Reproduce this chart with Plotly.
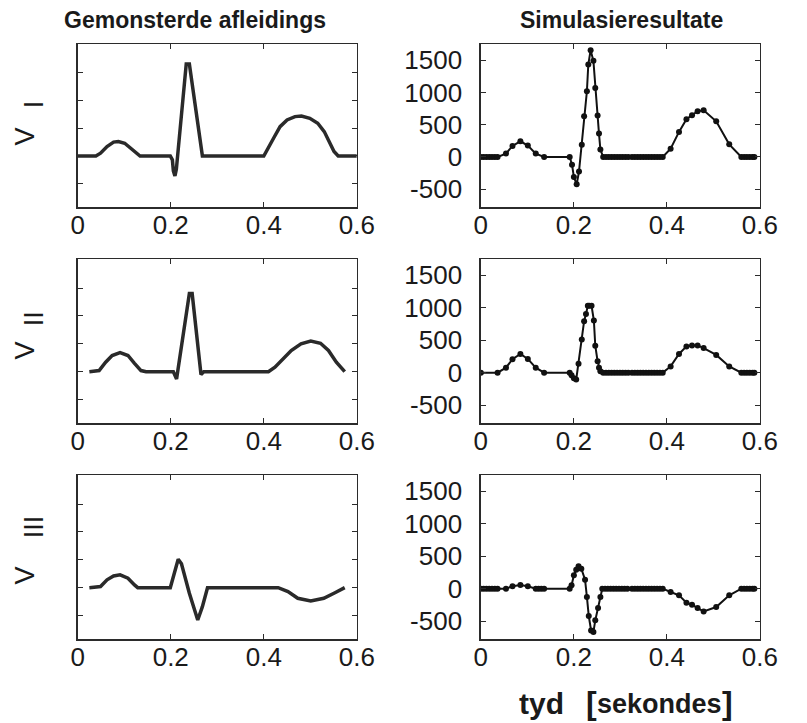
import plotly.graph_objects as go

# ---------------- data ----------------
tL1 = [0.0, 0.039, 0.049, 0.063, 0.077, 0.0875, 0.101, 0.115, 0.126, 0.134, 0.199, 0.2035, 0.2056, 0.209, 0.212, 0.2333, 0.240, 0.268, 0.400, 0.410, 0.421, 0.435, 0.450, 0.467, 0.481, 0.499, 0.516, 0.530, 0.540, 0.551, 0.560, 0.600]
vL1 = [0.0, 0.0, 0.05, 0.17, 0.25, 0.26, 0.23, 0.14, 0.05, 0.0, 0.0, -0.07, -0.27, -0.36, -0.24, 1.66, 1.66, 0.0, 0.0, 0.14, 0.32, 0.53, 0.65, 0.71, 0.72, 0.68, 0.59, 0.44, 0.26, 0.08, 0.0, 0.0]

tL2 = [0.025, 0.046, 0.060, 0.074, 0.091, 0.108, 0.122, 0.136, 0.147, 0.2056, 0.2125, 0.240, 0.246, 0.265, 0.271, 0.410, 0.424, 0.442, 0.459, 0.480, 0.501, 0.522, 0.539, 0.556, 0.574]
vL2 = [0.0, 0.02, 0.17, 0.29, 0.34, 0.29, 0.15, 0.02, 0.0, 0.0, -0.13, 1.40, 1.40, -0.05, 0.0, 0.0, 0.08, 0.23, 0.38, 0.50, 0.55, 0.51, 0.38, 0.17, 0.0]

tL3 = [0.025, 0.049, 0.063, 0.077, 0.091, 0.108, 0.122, 0.129, 0.199, 0.206, 0.216, 0.223, 0.240, 0.258, 0.268, 0.279, 0.431, 0.452, 0.473, 0.501, 0.529, 0.553, 0.574]
vL3 = [0.0, 0.02, 0.14, 0.21, 0.23, 0.17, 0.05, 0.0, 0.0, 0.20, 0.51, 0.43, -0.10, -0.58, -0.34, 0.0, 0.0, -0.07, -0.19, -0.24, -0.19, -0.09, 0.0]

# Right column: simulation results
tR1 = [0.0, 0.006, 0.012, 0.018, 0.024, 0.030, 0.036, 0.054, 0.068, 0.085, 0.101, 0.118, 0.136, 0.191, 0.196, 0.200, 0.206, 0.211, 0.217, 0.222, 0.228, 0.231, 0.236, 0.242, 0.246, 0.251, 0.254, 0.257, 0.263,
       0.269, 0.275, 0.281, 0.287, 0.293, 0.299, 0.305, 0.311, 0.317, 0.325, 0.331, 0.337, 0.343, 0.349, 0.355, 0.361, 0.367, 0.373, 0.379, 0.385, 0.391,
       0.408, 0.426, 0.442, 0.454, 0.466, 0.479, 0.506, 0.534, 0.560, 0.566, 0.572, 0.578, 0.584, 0.588]
vR1 = [0, 0, 0, 0, 0, 0, 0, 52, 171, 243, 176, 52, 0, 0, -119, -310, -424, -227, 191, 631, 1018, 1432, 1654, 1489, 1070, 641, 362, 114, 0,
       0, 0, 0, 0, 0, 0, 0, 0, 0, 0, 0, 0, 0, 0, 0, 0, 0, 0, 0, 0, 0,
       129, 388, 584, 646, 708, 724, 553, 196, 0, 0, 0, 0, 0, 0]

tR2 = [0.0, 0.036, 0.054, 0.068, 0.085, 0.101, 0.118, 0.136, 0.191, 0.195, 0.200, 0.205, 0.210, 0.217, 0.222, 0.226, 0.230, 0.233, 0.238, 0.243, 0.246, 0.251, 0.254, 0.257, 0.263,
       0.269, 0.275, 0.281, 0.287, 0.293, 0.299, 0.305, 0.311, 0.317, 0.325, 0.331, 0.337, 0.343, 0.349, 0.355, 0.361, 0.367, 0.373, 0.379, 0.385, 0.391,
       0.408, 0.426, 0.442, 0.454, 0.466, 0.479, 0.506, 0.534, 0.560, 0.566, 0.572, 0.578, 0.584, 0.588]
vR2 = [0, 0, 76, 207, 288, 212, 76, 0, 0, -40, -86, -106, 136, 510, 793, 904, 1030, 1030, 1030, 803, 414, 177, 76, 20, 0,
       0, 0, 0, 0, 0, 0, 0, 0, 0, 0, 0, 0, 0, 0, 0, 0, 0, 0, 0, 0, 0,
       96, 288, 404, 419, 419, 379, 273, 96, 0, 0, 0, 0, 0, 0]

tR3 = [0.0, 0.006, 0.012, 0.018, 0.024, 0.030, 0.036, 0.054, 0.068, 0.085, 0.101, 0.118, 0.124, 0.130, 0.136, 0.191, 0.195, 0.200, 0.205, 0.210, 0.216, 0.224, 0.228, 0.232, 0.237, 0.242, 0.246, 0.252, 0.257, 0.261,
       0.267, 0.273, 0.279, 0.285, 0.291, 0.297, 0.303, 0.309, 0.315, 0.325, 0.331, 0.337, 0.343, 0.349, 0.355, 0.361, 0.367, 0.373, 0.379, 0.385, 0.391,
       0.408, 0.426, 0.442, 0.454, 0.466, 0.479, 0.506, 0.534, 0.560, 0.566, 0.572, 0.578, 0.584, 0.588]
vR3 = [0, 0, 0, 0, 0, 0, 0, 0, 36, 57, 36, 0, 0, 0, 0, 0, 51, 206, 293, 344, 308, 139, -128, -421, -643, -668, -488, -298, -128, 0,
       0, 0, 0, 0, 0, 0, 0, 0, 0, 0, 0, 0, 0, 0, 0, 0, 0, 0, 0, 0, 0,
       -51, -103, -216, -247, -298, -350, -283, -103, 0, 0, 0, 0, 0, 0]

x_ticks = [0, 0.2, 0.4, 0.6]
x_tick_text = ["0", "0.2", "0.4", "0.6"]
yR_ticks = [-500, 0, 500, 1000, 1500]
yR_tick_text = ["-500", "0", "500", "1000", "1500"]
yL_ticks = [-0.5, 0, 0.5, 1.0, 1.5]

col_titles = ["Gemonsterde afleidings", "Simulasieresultate"]
lead_names = ["I", "II", "III"]

# ---------------- figure ----------------
W, H = 807, 723
FONT = "Arial, 'Liberation Sans', sans-serif"
AX = "#2b2b2b"
TXT = "#1a1a1a"

fig = go.Figure()

left_series = [(tL1, vL1), (tL2, vL2), (tL3, vL3)]
right_series = [(tR1, vR1), (tR2, vR2), (tR3, vR3)]

for r in range(3):
    kL = 2 * r + 1
    kR = 2 * r + 2
    t, v = left_series[r]
    fig.add_trace(go.Scatter(x=t, y=v, mode="lines", line=dict(color="#2a2a2a", width=3.5),
                             xaxis=f"x{kL}", yaxis=f"y{kL}", showlegend=False, hoverinfo="skip"))
    t, v = right_series[r]
    fig.add_trace(go.Scatter(x=t, y=v, mode="lines+markers", line=dict(color="#111111", width=2),
                             marker=dict(color="#111111", size=6),
                             xaxis=f"x{kR}", yaxis=f"y{kR}", showlegend=False, hoverinfo="skip"))

# domains (pixel based)
colsX = [(73, 361), (489, 777)]
rowsY = [(44, 207), (259, 423), (475, 639)]

def px_x(p):
    return p / W

def px_y(p):
    return 1 - p / H

layout = dict(
    width=W, height=H,
    margin=dict(l=0, r=0, t=0, b=0),
    paper_bgcolor="white", plot_bgcolor="white",
    font=dict(family=FONT, color=TXT),
)

for r in range(3):
    for c in range(2):
        k = 2 * r + c + 1
        xa = dict(
            domain=[px_x(colsX[c][0]), px_x(colsX[c][1])],
            anchor=f"y{k}", range=[0, 0.6],
            tickmode="array", tickvals=x_ticks, ticktext=x_tick_text,
            ticks="inside", ticklen=5, tickcolor=AX, tickwidth=1,
            showline=True, linecolor=AX, linewidth=1.5, mirror="ticks",
            showgrid=False, zeroline=False,
            tickfont=dict(size=26, color=TXT, family=FONT),
            ticklabelstandoff=-6,
        )
        ya = dict(
            domain=[px_y(rowsY[r][1]), px_y(rowsY[r][0])],
            anchor=f"x{k}",
            ticks="inside", ticklen=5, tickcolor=AX, tickwidth=1,
            showline=True, linecolor=AX, linewidth=1.5, mirror="ticks",
            showgrid=False, zeroline=False,
            tickfont=dict(size=26, color=TXT, family=FONT),
        )
        if c == 0:
            ya.update(range=[-0.92, 2.02], tickmode="array", tickvals=yL_ticks, showticklabels=False)
        else:
            ya.update(range=[-775, 1750], tickmode="array", tickvals=yR_ticks, ticktext=yR_tick_text,
                      ticklabelstandoff=12)
        sx = "xaxis" if k == 1 else f"xaxis{k}"
        sy = "yaxis" if k == 1 else f"yaxis{k}"
        layout[sx] = xa
        layout[sy] = ya

annotations = []
# column titles
annotations.append(dict(text=f"<b>{col_titles[0]}</b>", x=px_x(194), y=px_y(20), xref="paper", yref="paper",
                        showarrow=False, xanchor="center", yanchor="middle",
                        font=dict(size=23, family=FONT, color=TXT)))
annotations.append(dict(text=f"<b>{col_titles[1]}</b>", x=px_x(634), y=px_y(20), xref="paper", yref="paper",
                        showarrow=False, xanchor="center", yanchor="middle",
                        font=dict(size=23, family=FONT, color=TXT)))
# lead labels (rotated)
V_y = [136, 350, 575]
N_y = [104, 319, 527]
for r in range(3):
    annotations.append(dict(text="V", x=px_x(19), y=px_y(V_y[r]), xref="paper", yref="paper",
                            showarrow=False, xanchor="center", yanchor="middle", textangle=-90,
                            font=dict(size=27, family=FONT, color=TXT)))
    annotations.append(dict(text=lead_names[r], x=px_x(28), y=px_y(N_y[r]), xref="paper", yref="paper",
                            showarrow=False, xanchor="center", yanchor="middle", textangle=-90,
                            font=dict(size=27, family=FONT, color=TXT)))
# x axis title pieces
annotations.append(dict(
    text="<b>tyd</b>",
    x=px_x(576), y=px_y(703), xref="paper", yref="paper", showarrow=False, borderpad=0,
    xanchor="right", yanchor="middle", font=dict(size=30, family=FONT, color=TXT)))
annotations.append(dict(
    text="<b>[</b>",
    x=px_x(596), y=px_y(703), xref="paper", yref="paper", showarrow=False, borderpad=0,
    xanchor="left", yanchor="middle", font=dict(size=32, family=FONT, color=TXT)))
annotations.append(dict(
    text="<b>sekondes</b>",
    x=px_x(608), y=px_y(704), xref="paper", yref="paper", showarrow=False, borderpad=0,
    xanchor="left", yanchor="middle", font=dict(size=27, family=FONT, color=TXT)))
annotations.append(dict(
    text="<b>]</b>",
    x=px_x(750), y=px_y(703), xref="paper", yref="paper", showarrow=False, borderpad=0,
    xanchor="right", yanchor="middle", font=dict(size=32, family=FONT, color=TXT)))

layout["annotations"] = annotations
fig.update_layout(**layout)

fig.write_html("out.html",
               config={"displayModeBar": False, "staticPlot": True},
               post_script="document.body.style.margin='0px';document.body.style.overflow='hidden';")
